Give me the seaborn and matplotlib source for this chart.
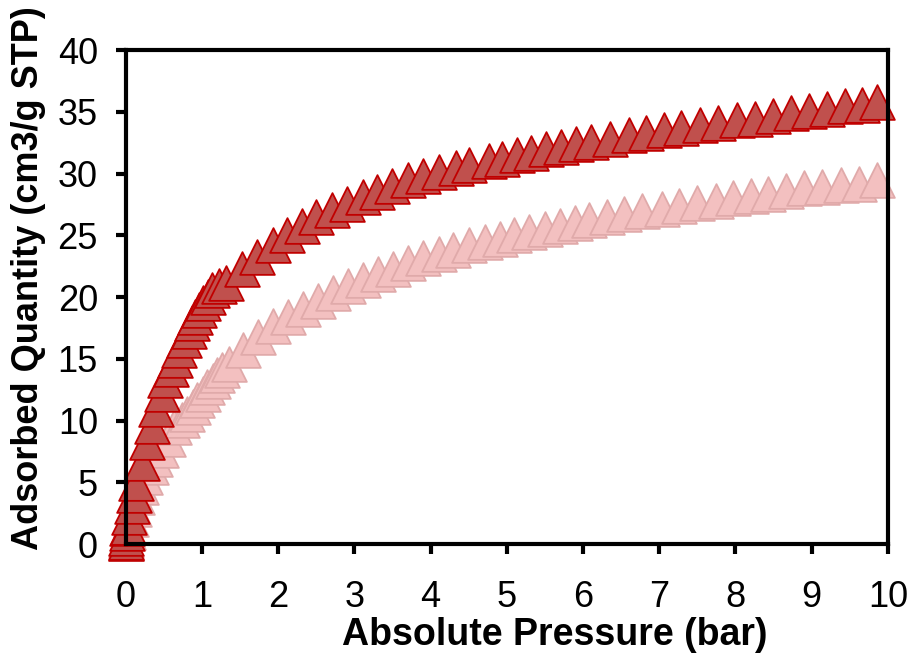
import matplotlib
matplotlib.use("Agg")
import matplotlib.pyplot as plt
import seaborn as sns
import pandas as pd

# ---- data ----
dark_pressure = [0.0, 0.005, 0.01, 0.015, 0.02, 0.03, 0.05, 0.08, 0.11, 0.14, 0.21, 0.28,
                 0.34, 0.40, 0.47, 0.52, 0.59, 0.65, 0.70, 0.76, 0.83, 0.87, 0.91, 0.96,
                 1.01, 1.08, 1.13, 1.22, 1.32, 1.52, 1.72, 1.93, 2.12, 2.31, 2.50, 2.71,
                 2.91, 3.11, 3.30, 3.50, 3.70, 3.90, 4.11, 4.33, 4.51, 4.77, 4.94, 5.14,
                 5.32, 5.52, 5.71, 5.91, 6.11, 6.35, 6.60, 6.83, 7.06, 7.29, 7.54, 7.77,
                 8.02, 8.25, 8.49, 8.73, 8.96, 9.20, 9.43, 9.66, 9.86]
dark_quantity = [0.05, 0.15, 0.5, 0.9, 1.3, 1.40, 2.21, 3.10, 3.97, 4.91, 6.53, 8.23,
                 9.58, 10.93, 12.15, 13.28, 14.17, 14.90, 15.71, 16.52, 17.25, 17.87, 18.40, 18.95,
                 19.49, 20.02, 20.57, 20.90, 21.17, 22.25, 23.28, 24.19, 25.00, 25.71, 26.44, 27.03,
                 27.57, 28.11, 28.54, 29.00, 29.49, 29.81, 30.16, 30.43, 30.70, 31.03, 31.21, 31.48,
                 31.70, 31.97, 32.16, 32.37, 32.59, 32.83, 33.10, 33.32, 33.50, 33.67, 33.91, 34.13,
                 34.32, 34.45, 34.67, 34.86, 35.08, 35.26, 35.43, 35.56, 35.83]

light_pressure = [0.0, 0.01, 0.03, 0.07, 0.11, 0.15, 0.20, 0.26, 0.33, 0.39, 0.46, 0.55,
                  0.64, 0.74, 0.81, 0.88, 0.94, 1.01, 1.07, 1.14, 1.20, 1.26, 1.36, 1.54,
                  1.74, 1.93, 2.13, 2.33, 2.52, 2.72, 2.92, 3.11, 3.31, 3.51, 3.70, 3.90,
                  4.11, 4.30, 4.51, 4.72, 4.91, 5.10, 5.29, 5.50, 5.70, 5.89, 6.08, 6.31,
                  6.54, 6.78, 7.04, 7.26, 7.50, 7.74, 7.97, 8.20, 8.43, 8.66, 8.90, 9.14,
                  9.38, 9.62, 9.86]
light_quantity = [0.05, 0.3, 1.0, 2.05, 2.86, 3.81, 4.62, 5.42, 6.23, 6.90, 7.59, 8.53,
                  9.47, 10.02, 10.55, 11.09, 11.64, 12.17, 12.71, 13.20, 13.66, 14.06, 14.60, 15.70,
                  16.74, 17.63, 18.36, 19.03, 19.70, 20.32, 20.87, 21.35, 21.86, 22.29, 22.75, 23.16,
                  23.48, 23.83, 24.19, 24.45, 24.72, 25.00, 25.26, 25.53, 25.77, 25.99, 26.21, 26.48,
                  26.72, 26.94, 27.15, 27.39, 27.61, 27.80, 28.02, 28.15, 28.37, 28.56, 28.83, 28.88,
                  29.04, 29.15, 29.50]

x_ticks = [0, 1, 2, 3, 4, 5, 6, 7, 8, 9, 10]
y_ticks = [0, 5, 10, 15, 20, 25, 30, 35, 40]
x_label = "Absolute Pressure (bar)"
y_label = "Adsorbed Quantity (cm3/g STP)"

dark_df = pd.DataFrame({"pressure": dark_pressure, "quantity": dark_quantity})
light_df = pd.DataFrame({"pressure": light_pressure, "quantity": light_quantity})

sns.set_theme(style="white")
plt.rcParams["font.family"] = ["Liberation Sans", "DejaVu Sans"]

fig = plt.figure(figsize=(9.14, 6.59), dpi=100)
ax = fig.add_axes([0.1375, 0.1745, 0.834, 0.7496])

msize = 25 ** 2
sns.scatterplot(data=light_df, x="pressure", y="quantity", ax=ax, marker="^", s=msize,
                color="#F3C0C0", edgecolor="#E0AAAA", linewidth=1.3, clip_on=False,
                legend=False, zorder=1)
sns.scatterplot(data=dark_df, x="pressure", y="quantity", ax=ax, marker="^", s=msize,
                color="#C0504D", edgecolor="#C00000", linewidth=1.3, clip_on=False,
                legend=False, zorder=1.1)

ax.set_xlim(0, 10)
ax.set_ylim(0, 40)
ax.set_xticks(x_ticks)
ax.set_yticks(y_ticks)
ax.set_xticklabels([str(t) for t in x_ticks])
ax.set_yticklabels([str(t) for t in y_ticks])

for sp in ax.spines.values():
    sp.set_visible(True)
    sp.set_color("black")
    sp.set_linewidth(3)
    sp.set_zorder(3)

ax.tick_params(axis="both", which="major", direction="out", length=7, width=3,
               color="black", labelsize=26, labelcolor="black")
ax.tick_params(axis="x", bottom=True, top=False, pad=19)
ax.tick_params(axis="y", left=True, right=False, pad=13)

ax.set_xlabel(x_label, fontsize=27, fontweight="bold", color="black")
ax.set_ylabel(y_label, fontsize=26, fontweight="bold", color="black")
ax.xaxis.set_label_coords(0.563, -0.148)
ax.yaxis.set_label_coords(-0.105, 0.539)

fig.savefig("out.png", dpi=100, facecolor="white")
